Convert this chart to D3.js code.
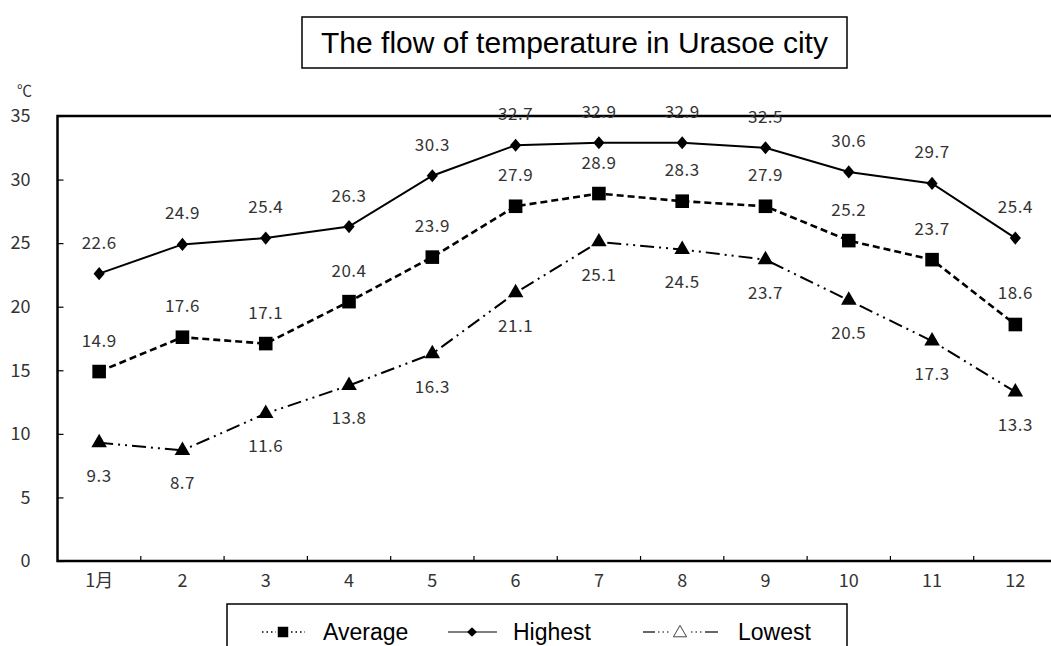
<!DOCTYPE html>
<html>
<head>
<meta charset="utf-8">
<script src="https://cdn.jsdelivr.net/npm/d3@7"></script>
<style>
  body { margin: 0; background: #fff; }
  svg { display: block; }
</style>
</head>
<body>
<script>
/* temperature chart */
var width = 1051;
var height = 646;

var months = ["1月", "2", "3", "4", "5", "6", "7", "8", "9", "10", "11", "12"];
var highest = [22.6, 24.9, 25.4, 26.3, 30.3, 32.7, 32.9, 32.9, 32.5, 30.6, 29.7, 25.4];
var average = [14.9, 17.6, 17.1, 20.4, 23.9, 27.9, 28.9, 28.3, 27.9, 25.2, 23.7, 18.6];
var lowest = [9.3, 8.7, 11.6, 13.8, 16.3, 21.1, 25.1, 24.5, 23.7, 20.5, 17.3, 13.3];
var yTicks = [0, 5, 10, 15, 20, 25, 30, 35];

var svg = d3.select("body").append("svg").attr("width", width).attr("height", height);

var x = d3.scaleBand().domain(months).range([57.5, 1057]);
var y = d3.scaleLinear().domain([0, 35]).range([561, 116]);

// title box
svg.append("rect").attr("x", 302).attr("y", 17).attr("width", 545).attr("height", 51)
  .attr("fill", "#fff").attr("stroke", "#000").attr("stroke-width", 1.5);
svg.append("text").attr("x", 574.5).attr("y", 53).attr("text-anchor", "middle")
  .style("font-family", "Liberation Sans, Arial, sans-serif").style("font-size", "30px")
  .text("The flow of temperature in Urasoe city");

// axes
var yAxis = svg.append("g").attr("transform", "translate(57.5,0)")
  .call(d3.axisLeft(y).tickValues(yTicks).tickSize(-6).tickPadding(27));
yAxis.select(".domain").remove();
yAxis.selectAll("line").attr("stroke", "#000").attr("stroke-width", 1.2);

var xAxis = svg.append("g").attr("transform", "translate(0,561)")
  .call(d3.axisBottom(x).tickSize(0).tickPadding(13));
xAxis.select(".domain").remove();

svg.selectAll(".tick text")
  .style("font-family", "Noto Sans CJK JP, sans-serif")
  .style("font-size", "18px")
  .attr("fill", "#333");

svg.append("g").selectAll("line")
  .data(months.slice(1))
  .enter().append("line")
  .attr("x1", function(d){ return x(d); })
  .attr("x2", function(d){ return x(d); })
  .attr("y1", 561).attr("y2", 556)
  .attr("stroke", "#000").attr("stroke-width", 1.2);

svg.append("text").attr("x", 17).attr("y", 96)
  .style("font-family", "Noto Sans CJK JP, sans-serif").style("font-size", "15px").attr("fill", "#333")
  .text("℃");

// plot frame
svg.append("rect").attr("x", 57.5).attr("y", 116).attr("width", 1000).attr("height", 445)
  .attr("fill", "none").attr("stroke", "#000").attr("stroke-width", 2.5);

var series = [
  {name: "Highest", values: highest, dash: null, width: 2, symbol: d3.symbolDiamond2, size: 110, sx: 0.85, labelDy: -31},
  {name: "Average", values: average, dash: "7,4", width: 2.6, symbol: d3.symbolSquare, size: 185, sx: 1, labelDy: -31},
  {name: "Lowest", values: lowest, dash: "14,5,2,5,2,5", width: 2, symbol: d3.symbolTriangle, size: 105, sx: 1, labelDy: 33}
];

var line = d3.line()
  .x(function(d, i){ return x(months[i]) + x.bandwidth() / 2; })
  .y(function(d){ return y(d); });

series.forEach(function(s){
  svg.append("path").datum(s.values)
    .attr("d", line)
    .attr("fill", "none").attr("stroke", "#000")
    .attr("stroke-width", s.width)
    .attr("stroke-dasharray", s.dash);

  svg.append("g").selectAll("path")
    .data(s.values)
    .enter().append("path")
    .attr("d", d3.symbol().type(s.symbol).size(s.size))
    .attr("transform", function(d, i){
      return "translate(" + (x(months[i]) + x.bandwidth() / 2) + "," + y(d) + ") scale(" + s.sx + ",1)";
    })
    .attr("fill", "#000");

  svg.append("g").selectAll("text")
    .data(s.values)
    .enter().append("text")
    .attr("x", function(d, i){ return x(months[i]) + x.bandwidth() / 2; })
    .attr("y", function(d){ return y(d) + s.labelDy; })
    .attr("dy", "0.35em")
    .attr("text-anchor", "middle")
    .style("font-family", "Noto Sans CJK JP, sans-serif").style("font-size", "17px")
    .style("letter-spacing", "0.5px")
    .attr("fill", "#333")
    .text(function(d){ return d.toFixed(1); });
});

// legend
var legend = svg.append("g");
legend.append("rect").attr("x", 227).attr("y", 604).attr("width", 620).attr("height", 60)
  .attr("fill", "#fff").attr("stroke", "#000").attr("stroke-width", 1.5);

var legendItems = [
  {name: "Average", tx: 323},
  {name: "Highest", tx: 513},
  {name: "Lowest", tx: 738}
];
var ly = 632;

// Average: dotted short lines + square
legend.append("line").attr("x1", 262).attr("x2", 276).attr("y1", ly).attr("y2", ly)
  .attr("stroke", "#000").attr("stroke-width", 1.5).attr("stroke-dasharray", "1.5,3");
legend.append("line").attr("x1", 291).attr("x2", 305).attr("y1", ly).attr("y2", ly)
  .attr("stroke", "#000").attr("stroke-width", 1.5).attr("stroke-dasharray", "1.5,3");
legend.append("path").attr("d", d3.symbol().type(d3.symbolSquare).size(110))
  .attr("transform", "translate(283," + ly + ")");

// Highest: solid + diamond
legend.append("line").attr("x1", 448).attr("x2", 497).attr("y1", ly).attr("y2", ly)
  .attr("stroke", "#000").attr("stroke-width", 1.2);
legend.append("path").attr("d", d3.symbol().type(d3.symbolDiamond2).size(60))
  .attr("transform", "translate(472," + ly + ")");

// Lowest: dash dot + open triangle
legend.append("line").attr("x1", 643).attr("x2", 655).attr("y1", ly).attr("y2", ly)
  .attr("stroke", "#000").attr("stroke-width", 1.2);
legend.append("line").attr("x1", 658).attr("x2", 669).attr("y1", ly).attr("y2", ly)
  .attr("stroke", "#000").attr("stroke-width", 1.2).attr("stroke-dasharray", "1.5,3");
legend.append("path").attr("d", d3.symbol().type(d3.symbolTriangle).size(75))
  .attr("transform", "translate(680," + (ly + 1) + ")")
  .attr("fill", "none").attr("stroke", "#444").attr("stroke-width", 1);
legend.append("line").attr("x1", 691).attr("x2", 702).attr("y1", ly).attr("y2", ly)
  .attr("stroke", "#000").attr("stroke-width", 1.2).attr("stroke-dasharray", "1.5,3");
legend.append("line").attr("x1", 705).attr("x2", 718).attr("y1", ly).attr("y2", ly)
  .attr("stroke", "#000").attr("stroke-width", 1.2);

legend.selectAll("text.lg")
  .data(legendItems)
  .enter().append("text")
  .attr("class", "lg")
  .attr("x", function(d){ return d.tx; })
  .attr("y", ly + 8)
  .style("font-family", "Liberation Sans, Arial, sans-serif").style("font-size", "23px")
  .text(function(d){ return d.name; });
</script>
</body>
</html>
